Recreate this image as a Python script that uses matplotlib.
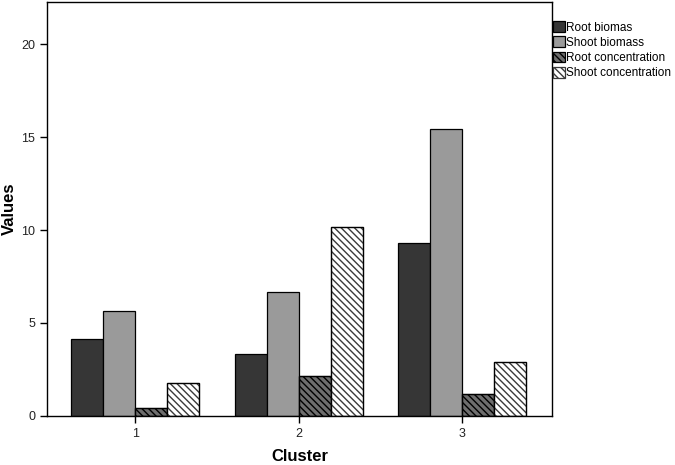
import numpy as np
import matplotlib
matplotlib.use("Agg")
import matplotlib.pyplot as plt

plt.rcParams['font.family'] = ['Liberation Sans', 'DejaVu Sans']
plt.rcParams['hatch.linewidth'] = 1.0

clusters = ['1', '2', '3']
series = ['Root biomas', 'Shoot biomass', 'Root concentration', 'Shoot concentration']
root_biomas = [4.12, 3.35, 9.32]
shoot_biomass = [5.65, 6.65, 15.45]
root_conc = [0.45, 2.15, 1.17]
shoot_conc = [1.79, 10.14, 2.92]

values = [root_biomas, shoot_biomass, root_conc, shoot_conc]
faces = ['#363636', '#9a9a9a', '#6e6e6e', '#ffffff']
hatches = [None, None, '\\' * 5, '\\' * 5]
hatch_cols = ['black', 'black', '#000000', '#3a3a3a']

fig = plt.figure(figsize=(6.75, 4.65), dpi=100)
ax = fig.add_axes([0.0696, 0.1054, 0.7484, 0.8903])

x = np.arange(1, len(clusters) + 1)
w = 0.196
for i, (vals, lab) in enumerate(zip(values, series)):
    pos = x + (i - 1.5) * w
    bars = ax.bar(pos, vals, width=w, color=faces[i], edgecolor='black',
                  linewidth=0.9, hatch=hatches[i], label=lab)
    if hatches[i]:
        # hatch takes the edge colour, so redraw the outline on top
        for b in bars:
            b.set_edgecolor(hatch_cols[i])
        ax.bar(pos, vals, width=w, facecolor='none', edgecolor='black', linewidth=0.9)

ax.set_xlim(0.46, 3.55)
ax.set_ylim(0, 22.26)
ax.set_xticks(x)
ax.set_xticklabels(clusters)
ax.set_yticks([0, 5, 10, 15, 20])
ax.tick_params(direction='out', length=5, width=1, labelsize=9, colors='black',
               labelcolor='#222222')
for s in ax.spines.values():
    s.set_linewidth(1)

ax.set_xlabel('Cluster', fontsize=12, fontweight='bold')
ax.set_ylabel('Values', fontsize=12, fontweight='bold')
ax.xaxis.set_label_coords(0.5, -0.08)
ax.yaxis.set_label_coords(-0.06, 0.5)

leg = ax.legend(loc='upper left', bbox_to_anchor=(1.0, 0.955), frameon=False,
                fontsize=8.5, handlelength=1.0, handleheight=1.0, handletextpad=0.15,
                labelspacing=0.25, borderaxespad=0.05, borderpad=0.0)
for h, hc in zip(leg.legend_handles, hatch_cols):
    h.set_edgecolor(hc)

fig.savefig('out.png', dpi=100)
